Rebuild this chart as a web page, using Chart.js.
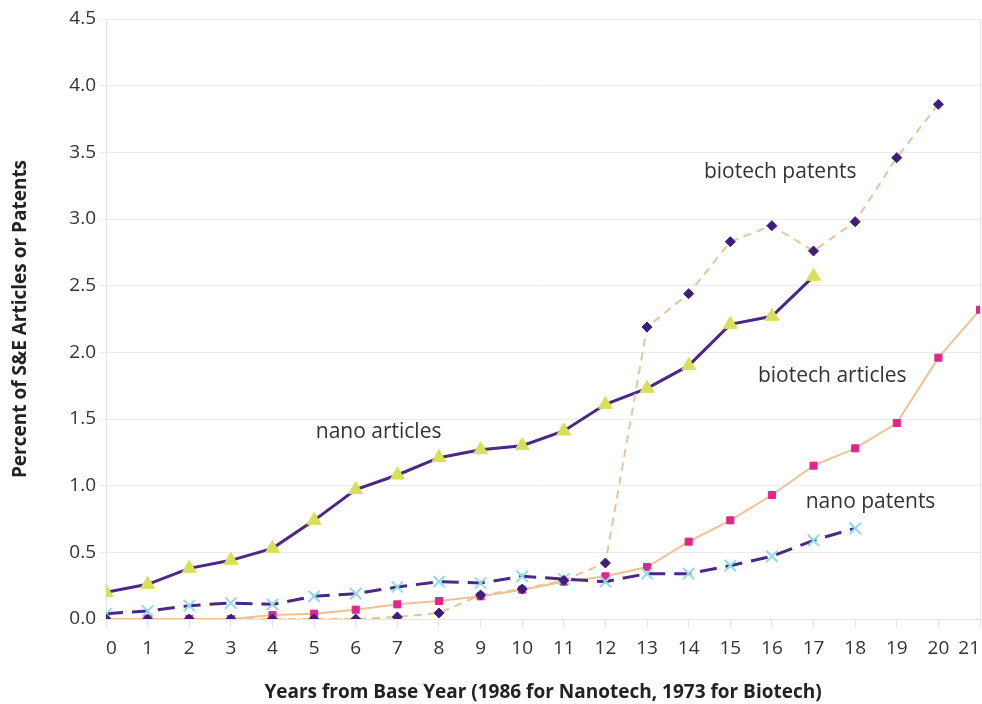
<!DOCTYPE html>
<html>
<head>
<meta charset="utf-8">
<script src="https://cdn.jsdelivr.net/npm/chart.js@4"></script>
<style>
  html, body { margin: 0; padding: 0; background: #fff; }
  #wrap { width: 982px; height: 704px; }
</style>
</head>
<body>
<div id="wrap"><canvas id="myChart" width="982" height="704"></canvas></div>
<script>
// years from base year
var years = [0, 1, 2, 3, 4, 5, 6, 7, 8, 9, 10, 11, 12, 13, 14, 15, 16, 17, 18, 19, 20, 21];

var nanoArticles = [0.20, 0.26, 0.38, 0.44, 0.53, 0.74, 0.97, 1.08, 1.21, 1.27, 1.30, 1.41, 1.61, 1.73, 1.90, 2.21, 2.27, 2.57];
var biotechPatents = [0.0, 0.0, 0.0, 0.0, 0.0, 0.0, 0.0, 0.015, 0.045, 0.18, 0.225, 0.29, 0.42, 2.19, 2.44, 2.83, 2.95, 2.76, 2.98, 3.46, 3.86];
var biotechArticles = [0.0, 0.0, 0.0, 0.0, 0.03, 0.04, 0.07, 0.11, 0.135, 0.17, 0.22, 0.28, 0.32, 0.39, 0.58, 0.74, 0.93, 1.15, 1.28, 1.47, 1.96, 2.32];
var nanoPatents = [0.04, 0.06, 0.10, 0.12, 0.11, 0.17, 0.19, 0.24, 0.28, 0.27, 0.32, 0.30, 0.28, 0.34, 0.34, 0.40, 0.47, 0.59, 0.68];

// text labels placed next to the lines (data coords)
var seriesLabels = [
  { text: "nano articles", x: 6.55, y: 1.40 },
  { text: "biotech patents", x: 16.2, y: 3.35 },
  { text: "biotech articles", x: 17.45, y: 1.82 },
  { text: "nano patents", x: 18.37, y: 0.88 },
];

function pts(vals) {
  return vals.map(function (v, i) { return { x: years[i], y: v }; });
}

var FONT = "'Open Sans', 'Noto Sans', sans-serif";

var labelPlugin = {
  id: "seriesLabels",
  afterDatasetsDraw: function (chart) {
    var c = chart.ctx, xs = chart.scales.x, ys = chart.scales.y, a = chart.chartArea;
    c.save();
    // right frame line
    c.strokeStyle = "#e6e6e6";
    c.lineWidth = 1;
    c.beginPath();
    c.moveTo(a.right + 0.5, a.top);
    c.lineTo(a.right + 0.5, a.bottom);
    c.stroke();
    c.fillStyle = "#333";
    c.font = "21px " + FONT;
    c.textAlign = "center";
    c.textBaseline = "middle";
    seriesLabels.forEach(function (l) {
      c.fillText(l.text, xs.getPixelForValue(l.x), ys.getPixelForValue(l.y));
    });
    c.restore();
  },
};

var ctx = document.getElementById("myChart").getContext("2d");

var chart = new Chart(ctx, {
  type: "line",
  data: {
    datasets: [
      {
        label: "biotech patents",
        data: pts(biotechPatents),
        borderColor: "#e8c49c",
        borderWidth: 2,
        borderDash: [8, 6],
        pointStyle: "rectRot",
        pointRadius: 5,
        pointBackgroundColor: "#3e1e7c",
        pointBorderColor: "#3e1e7c",
        pointBorderWidth: 1,
      },
      {
        label: "nano articles",
        data: pts(nanoArticles),
        borderColor: "#4a2887",
        borderWidth: 3,
        pointStyle: "triangle",
        pointRadius: 8,
        pointBackgroundColor: "#d8df5a",
        pointBorderColor: "#d8df5a",
        pointBorderWidth: 1,
      },
      {
        label: "nano patents",
        data: pts(nanoPatents),
        borderColor: "#4a2887",
        borderWidth: 3,
        borderDash: [17, 9],
        pointStyle: "crossRot",
        pointRadius: 8,
        pointBorderColor: "#92dbe4",
        pointBorderWidth: 2,
      },
      {
        label: "biotech articles",
        data: pts(biotechArticles),
        borderColor: "#efc296",
        borderWidth: 2,
        pointStyle: "rect",
        pointRadius: 5,
        pointBackgroundColor: "#e0268c",
        pointBorderColor: "#e0268c",
        pointBorderWidth: 1,
      },
    ],
  },
  options: {
    responsive: false,
    animation: false,
    layout: { autoPadding: false, padding: { top: 19, right: 2, left: 0, bottom: 0 } },
    plugins: { legend: { display: false }, tooltip: { enabled: false } },
    elements: { line: { tension: 0 } },
    scales: {
      x: {
        type: "linear",
        min: 0,
        max: 21,
        afterFit: function (s) { s.height = 85; s.paddingLeft = 0; s.paddingRight = 0; },
        grid: { drawOnChartArea: false, drawTicks: true, tickLength: 8, color: "#e3e3e3" },
        border: { color: "#e3e3e3" },
        ticks: {
          stepSize: 1,
          autoSkip: false,
          maxRotation: 0,
          align: "inner",
          padding: 0,
          color: "#333",
          font: { family: FONT, size: 19, lineHeight: 2.3 },
        },
        title: {
          display: true,
          text: "Years from Base Year (1986 for Nanotech, 1973 for Biotech)",
          color: "#222",
          font: { family: FONT, size: 19, weight: "bold" },
          padding: { top: 0, bottom: 0 },
        },
      },
      y: {
        min: 0,
        max: 4.5,
        afterFit: function (s) { s.width = 106; s.paddingTop = 0; },
        grid: { color: "#ececec", tickLength: 7 },
        border: { color: "#e3e3e3" },
        ticks: {
          stepSize: 0.5,
          padding: 3,
          color: "#333",
          font: { family: FONT, size: 19 },
          callback: function (v) { return v.toFixed(1); },
        },
        title: {
          display: true,
          text: "Percent of S&E Articles or Patents",
          color: "#222",
          font: { family: FONT, size: 19, weight: "bold" },
          padding: { top: 9, bottom: 0 },
        },
      },
    },
  },
  plugins: [labelPlugin],
});
</script>
</body>
</html>
